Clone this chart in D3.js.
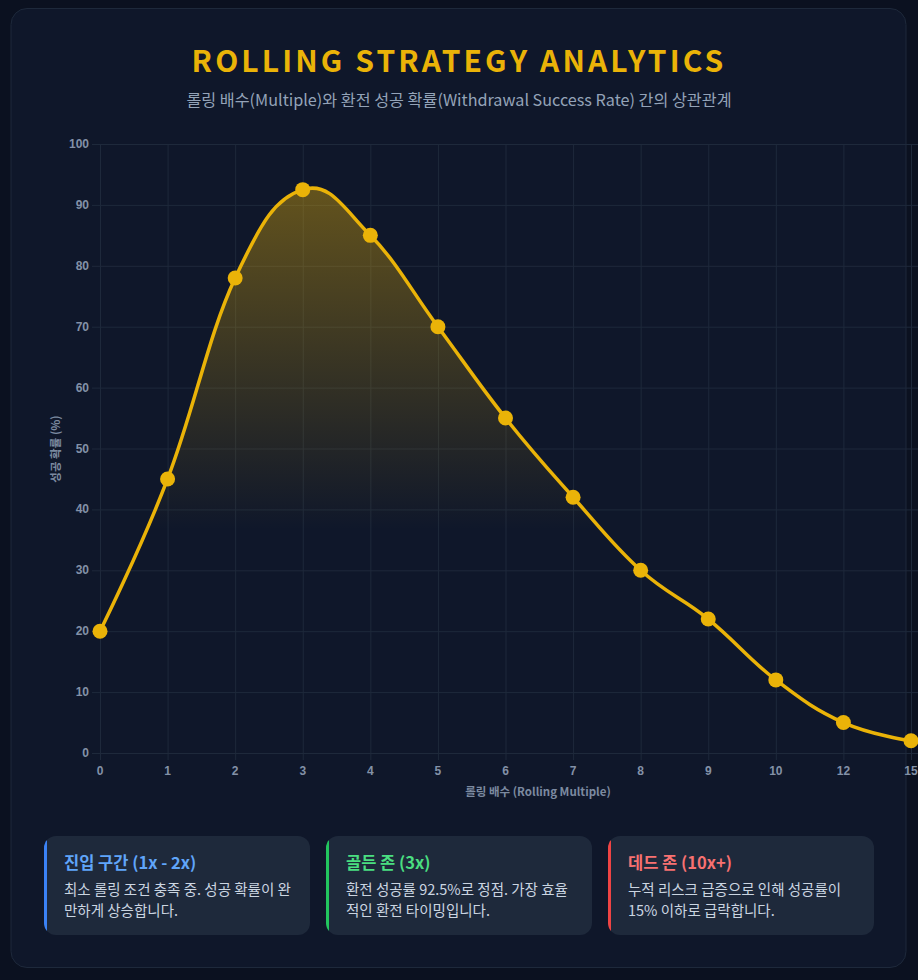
<!DOCTYPE html>
<html>
<head>
<meta charset="utf-8">
<script src="https://cdn.jsdelivr.net/npm/d3@7"></script>
<style>
  html, body { margin: 0; padding: 0; background: #0b1120; overflow: hidden; }
  svg { display: block; }
</style>
</head>
<body>
<div id="chart"></div>
<script>
// data
const multiples = ["0", "1", "2", "3", "4", "5", "6", "7", "8", "9", "10", "12", "15"];
const successRate = [20, 45, 78, 92.5, 85, 70, 55, 42, 30, 22, 12, 5, 2];
const yTicks = [0, 10, 20, 30, 40, 50, 60, 70, 80, 90, 100];

const titleText = "ROLLING STRATEGY ANALYTICS";
const subtitleText = "롤링 배수(Multiple)와 환전 성공 확률(Withdrawal Success Rate) 간의 상관관계";
const xTitle = "롤링 배수 (Rolling Multiple)";
const yTitle = "성공 확률 (%)";

const zoneTitles = ["진입 구간 (1x - 2x)", "골든 존 (3x)", "데드 존 (10x+)"];
const zoneLines = [
    ["최소 롤링 조건 충족 중. 성공 확률이 완", "만하게 상승합니다."],
    ["환전 성공률 92.5%로 정점. 가장 효율", "적인 환전 타이밍입니다."],
    ["누적 리스크 급증으로 인해 성공률이", "15% 이하로 급락합니다."]
];
const zoneColors = ["#3b82f6", "#22c55e", "#ef4444"];
const zoneTitleColors = ["#60a5fa", "#4ade80", "#f87171"];

const W = 918, H = 980;
const gold = "#eab308";
const cjk = "'Noto Sans CJK KR', 'Noto Sans', sans-serif";
const tickFont = "'Liberation Sans', Arial, sans-serif";

const svg = d3.select("#chart").append("svg")
    .attr("width", W)
    .attr("height", H);

// outer panel
svg.append("rect")
    .attr("x", 11).attr("y", 8.5)
    .attr("width", 895).attr("height", 959)
    .attr("rx", 16)
    .attr("fill", "#0f172a")
    .attr("stroke", "#1e293b")
    .attr("stroke-width", 1);

// title
svg.append("text")
    .attr("x", 459).attr("y", 72)
    .attr("text-anchor", "middle")
    .attr("font-family", cjk)
    .attr("font-size", 30)
    .attr("font-weight", 700)
    .attr("letter-spacing", 3.1)
    .attr("fill", gold)
    .text(titleText);

svg.append("text")
    .attr("x", 459).attr("y", 106)
    .attr("text-anchor", "middle")
    .attr("font-family", cjk)
    .attr("font-size", 16.2)
    .attr("fill", "#94a3b8")
    .text(subtitleText);

// scales
const x = d3.scalePoint().domain(multiples).range([100, 911]);
const y = d3.scaleLinear().domain([0, 100]).range([753, 144]);

const data = multiples.map((m, i) => ({ m: m, v: successRate[i] }));

const plot = svg.append("g");

// grid
const gridColor = "#1e293b";
plot.append("g")
    .attr("transform", "translate(0,753)")
    .call(d3.axisBottom(x).tickSize(-(753 - 144)).tickSizeOuter(0).tickFormat(""))
    .call(g => g.select(".domain").remove())
    .call(g => g.selectAll("line").attr("stroke", gridColor).attr("y2", 7).attr("y1", -(753 - 144)));

plot.append("g")
    .attr("transform", "translate(100,0)")
    .call(d3.axisLeft(y).tickValues(yTicks).tickSize(-(918 - 100)).tickSizeOuter(0).tickFormat(""))
    .call(g => g.select(".domain").remove())
    .call(g => g.selectAll("line").attr("stroke", gridColor).attr("x1", -8));

// tick labels
plot.append("g")
    .selectAll("text")
    .data(yTicks)
    .join("text")
    .attr("x", 89)
    .attr("y", d => y(d) + 4)
    .attr("text-anchor", "end")
    .attr("font-family", tickFont)
    .attr("font-size", 12)
    .attr("font-weight", 700)
    .attr("fill", "#8391a7")
    .text(d => d);

plot.append("g")
    .selectAll("text")
    .data(multiples)
    .join("text")
    .attr("x", d => x(d))
    .attr("y", 775)
    .attr("text-anchor", "middle")
    .attr("font-family", tickFont)
    .attr("font-size", 12)
    .attr("font-weight", 700)
    .attr("fill", "#8391a7")
    .text(d => d);

// axis titles
svg.append("text")
    .attr("x", 538).attr("y", 796)
    .attr("text-anchor", "middle")
    .attr("font-family", cjk)
    .attr("font-size", 11.5)
    .attr("font-weight", 700)
    .attr("fill", "#7c8aa0")
    .text(xTitle);

svg.append("text")
    .attr("transform", "translate(60,449) rotate(-90)")
    .attr("text-anchor", "middle")
    .attr("font-family", cjk)
    .attr("font-size", 11.5)
    .attr("font-weight", 700)
    .attr("fill", "#7c8aa0")
    .text(yTitle);

// gradient fill
const defs = svg.append("defs");
const grad = defs.append("linearGradient")
    .attr("id", "fillGrad")
    .attr("gradientUnits", "userSpaceOnUse")
    .attr("x1", 0).attr("y1", 130)
    .attr("x2", 0).attr("y2", 530);
grad.append("stop").attr("offset", 0).attr("stop-color", gold).attr("stop-opacity", 0.45);
grad.append("stop").attr("offset", 1).attr("stop-color", gold).attr("stop-opacity", 0);

const curve = d3.curveCardinal.tension(-0.2);

const area = d3.area()
    .x(d => x(d.m))
    .y0(y(0))
    .y1(d => y(d.v))
    .curve(curve);

const line = d3.line()
    .x(d => x(d.m))
    .y(d => y(d.v))
    .curve(curve);

plot.append("path")
    .datum(data)
    .attr("d", area)
    .attr("fill", "url(#fillGrad)");

plot.append("path")
    .datum(data)
    .attr("d", line)
    .attr("fill", "none")
    .attr("stroke", gold)
    .attr("stroke-width", 3.5);

plot.append("g")
    .selectAll("circle")
    .data(data)
    .join("circle")
    .attr("cx", d => x(d.m))
    .attr("cy", d => y(d.v))
    .attr("r", 7.5)
    .attr("fill", gold);

// zone cards
const cardW = 266, cardH = 99, cardY = 836;
const cards = svg.append("g")
    .selectAll("g")
    .data(zoneTitles)
    .join("g")
    .attr("transform", (d, i) => `translate(${44 + i * 282},${cardY})`);

cards.append("clipPath")
    .attr("id", (d, i) => "cc" + i)
    .append("rect")
    .attr("width", cardW).attr("height", cardH).attr("rx", 12);

cards.append("rect")
    .attr("width", cardW).attr("height", cardH)
    .attr("rx", 12)
    .attr("fill", "#1e293b");

cards.append("rect")
    .attr("clip-path", (d, i) => `url(#cc${i})`)
    .attr("width", 3).attr("height", cardH)
    .attr("fill", (d, i) => zoneColors[i]);

cards.append("text")
    .attr("x", 20).attr("y", 33)
    .attr("font-family", cjk)
    .attr("font-size", 16.5)
    .attr("font-weight", 700)
    .attr("fill", (d, i) => zoneTitleColors[i])
    .text(d => d);

cards.each(function (d, i) {
    const t = d3.select(this).append("text")
        .attr("font-family", cjk)
        .attr("font-size", 14.5)
        .attr("fill", "#cbd5e1");
    t.selectAll("tspan")
        .data(zoneLines[i])
        .join("tspan")
        .attr("x", 20)
        .attr("y", (l, j) => 59 + j * 21)
        .text(l => l);
});
</script>
</body>
</html>
